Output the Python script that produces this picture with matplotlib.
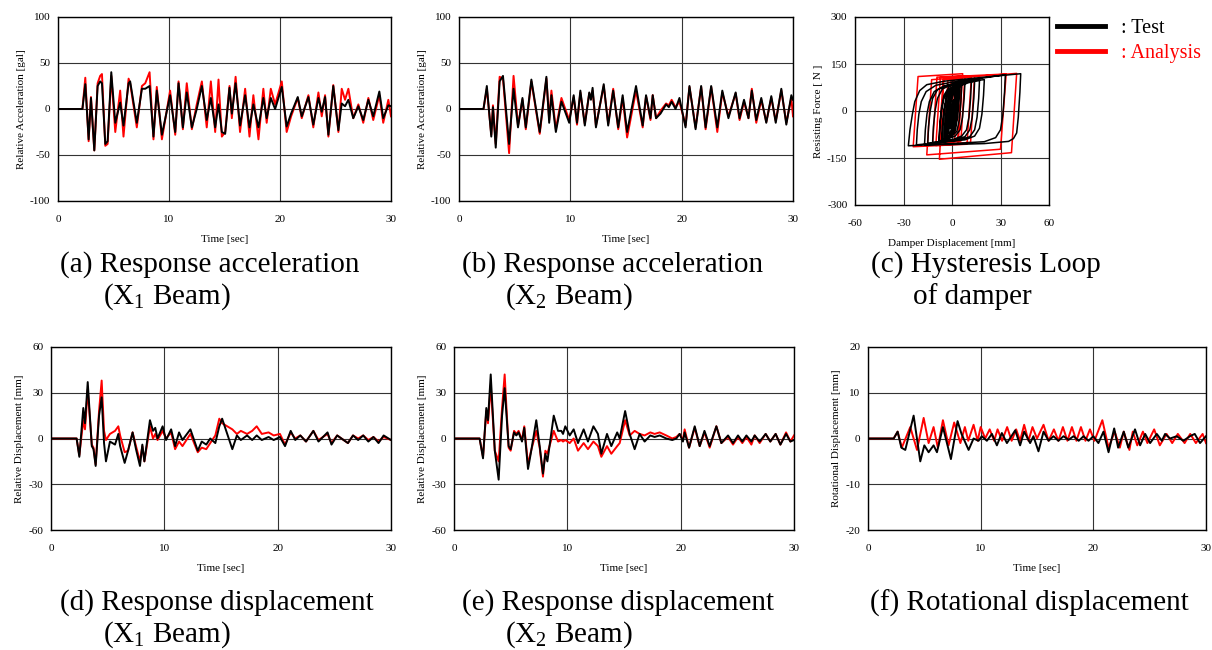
import matplotlib
matplotlib.use("Agg")
import matplotlib.pyplot as plt

plt.rcParams["font.family"] = ["Liberation Serif", "DejaVu Serif"]
plt.rcParams["mathtext.fontset"] = "custom"
plt.rcParams["mathtext.rm"] = "Liberation Serif"
plt.rcParams["mathtext.it"] = "Liberation Serif:italic"
plt.rcParams["axes.unicode_minus"] = False

# ---- data -----------------------------------------------------------------
# (a) response acceleration, X1 beam  [gal]
t_acc1 = [0, 2.2, 2.46, 2.76, 2.97, 3.27, 3.57, 3.8, 3.96, 4.26, 4.47, 4.8, 5.16, 5.6, 5.9,
          6.36, 6.5, 7.1, 7.56, 7.86, 8.25, 8.6, 8.9, 9.36, 10.1, 10.56, 10.86, 11.25, 11.6,
          12.06, 12.5, 12.96, 13.4, 13.77, 14.16, 14.46, 14.76, 15.06, 15.45, 15.66, 16.0,
          16.4, 16.86, 17.25, 17.6, 18.06, 18.5, 18.8, 19.17, 19.56, 20.16, 20.6, 21.0, 21.6,
          21.96, 22.56, 23.0, 23.46, 23.76, 24.06, 24.36, 24.8, 25.26, 25.56, 25.86, 26.16,
          26.6, 27.06, 27.5, 27.96, 28.4, 28.95, 29.3, 29.76, 30]
acc1_test = [0, 0, 27, -33, 12, -45, 25, 30, 28, -38, -35, 40, -15, 7, -18, 28, 30, -15, 22,
             22, 25, -30, 20, -28, 15, -25, 28, -20, 18, -20, 0, 25, -12, 12, -20, 5, -25, -27,
             23, -5, 28, -18, 15, -20, 5, -20, 12, -10, 12, 0, 24, -19, -5, 13, -8, 13, -17, 12,
             -3, 13, -28, 25, -23, 6, 3, 10, -10, 3, -12, 10, -8, 19, -10, 4, 3]
acc1_anal = [0, 0, 34, -35, 13, -45, 28, 36, 38, -40, -38, 36, -25, 20, -30, 33, 28, -20, 25,
             28, 40, -33, 24, -33, 20, -28, 30, -22, 28, -22, 5, 30, -20, 30, -25, 32, -30, -25,
             25, -10, 35, -25, 22, -30, 15, -33, 22, -15, 22, 5, 30, -25, -8, 12, -10, 15, -20,
             18, -8, 15, -30, 26, -25, 22, 10, 22, -10, 5, -15, 12, -12, 15, -15, 10, -8]

# (b) response acceleration, X2 beam  [gal]
t_acc2 = [0, 2.2, 2.5, 2.9, 3.05, 3.3, 3.65, 3.95, 4.5, 4.9, 5.3, 5.7, 6.0, 6.5, 7.25, 7.85,
          8.1, 8.3, 8.7, 9.2, 9.9, 10.3, 10.6, 10.9, 11.3, 11.7, 11.85, 12.0, 12.3, 13.0, 13.4,
          13.85, 14.3, 14.7, 15.1, 15.9, 16.5, 16.8, 17.2, 17.4, 17.7, 18.1, 18.6, 18.85, 19.1,
          19.45, 19.8, 20.35, 20.7, 21.25, 21.75, 22.15, 22.65, 23.2, 23.65, 24.2, 24.85, 25.2,
          25.6, 26.0, 26.3, 26.7, 27.15, 27.6, 28.05, 28.45, 28.95, 29.4, 29.85, 30]
acc2_test = [0, 0, 25, -30, 2, -42, 30, 36, -38, 22, -20, 12, -20, 32, -25, 35, -15, 15, -25,
             8, -15, 15, -15, 20, -18, 18, 10, 23, -20, 27, -18, 20, -20, 15, -25, 25, -18, 15,
             -10, 15, -10, -5, 5, 2, 8, 0, 12, -20, 25, -22, 25, -20, 25, -20, 20, -10, 18, -10,
             10, -10, 20, -12, 12, -15, 14, -15, 22, -17, 15, 10]
acc2_anal = [0, 0, 22, -28, 4, -38, 35, 33, -48, 36, -18, 10, -22, 30, -27, 33, -12, 20, -22,
             12, -12, 13, -17, 18, -16, 17, 12, 20, -18, 25, -16, 22, -22, 12, -31, 20, -20, 14,
             -12, 15, -10, -2, 6, 4, 10, 2, 8, -18, 24, -20, 24, -22, 24, -25, 18, -8, 17, -12,
             8, -10, 22, -15, 10, -14, 12, -13, 20, -15, 12, -8]

# (c) hysteresis loop of damper: displacement [mm], force [N]
loop_test_x = [0, 2, 5, 10, 14, 13.5, 12.5, 11, 8, 2, -12, -11.5, -10.5, -9, -6, 0, 10, 20,
               19.5, 18.5, 17, 14, 8, -10, -22, -21.5, -20.5, -19, -16, -10, 0, 15, 33,
               32.5, 31.5, 30, 27, 20, 0, -27, -26, -24.5, -23, -20, -15.6, -5, 20, 42.5,
               42, 41, 40, 38, 35, 20, 0, -17, -16.5, -15.5, -14, -11, -5, 5, 17,
               16.5, 15.5, 14, 11, 5, -8, -15, -14.5, -13.5, -12, -9, -3, 8, 12,
               11.5, 10.5, 9, 6, 0, -8, -7.5, -6.5, -5, -2, 3, 8,
               7.5, 6.5, 5, 2, -3, -6, -5.5, -4.5, -3, 0, 4, 6,
               5.5, 4.5, 3, 0, -4, -3.5, -2.5, -1, 2, 4,
               3.5, 2.5, 1, -2, -3, -2.5, -1.5, 0, 2, 3,
               2.5, 1.5, 0, -2, -1.5, -0.5, 1, 2, 1.5, 0.5, -1, -0.5, 0.5, 1,
               0.5, -0.5, -2, -5, -8, -7.5, -6.5, -5, -2, 1, 5,
               4.5, 3.5, 2, -1, -5, -4.5, -3.5, -2, 0, 3,
               2.5, 1.5, 0, -3, -6.5, -6, -5, -3.5, -1, 2, 4,
               3.5, 2.5, 1, -1.5, -3.5, -3, -2, -0.5, 1, 2, 1.5, 0.5, -0.5, 0]
loop_test_f = [0, 50, 80, 90, 95, 40, -20, -60, -82, -92, -100, -50, 0, 40, 70, 85, 95, 100,
               50, -10, -55, -80, -92, -102, -108, -60, -10, 30, 62, 82, 92, 102, 116,
               60, -10, -60, -85, -98, -104, -111, -60, -10, 30, 65, 84, 95, 108, 119,
               60, -20, -70, -88, -97, -104, -107, -108, -60, -10, 30, 62, 80, 90, 97,
               40, -20, -60, -82, -92, -100, -103, -50, 0, 40, 68, 82, 92, 95,
               40, -20, -60, -80, -92, -98, -50, 0, 40, 68, 82, 90,
               40, -20, -60, -80, -90, -94, -40, 10, 50, 72, 84, 87,
               30, -30, -65, -80, -88, -30, 20, 55, 75, 80,
               20, -40, -70, -80, -82, -30, 20, 55, 70, 72,
               10, -40, -65, -72, -20, 30, 55, 60, 0, -40, -55, -10, 30, 35,
               -20, -60, -82, -92, -96, -40, 10, 50, 75, 88, 95,
               40, -20, -62, -82, -92, -40, 10, 50, 72, 86,
               30, -25, -65, -85, -95, -45, 5, 45, 72, 86, 92,
               30, -30, -65, -82, -88, -30, 20, 55, 70, 76, 20, -30, -50, 0]
loop_anal_x = [0, 1.3, 12, 9.3, -24, -21, 6.6, 3.8, -10, -7.2, 33.5, 30, -15.6, -12.6, 40,
               36.8, -7.8, -5, 14, 11.5, -12, -9.3, 8, 5.5, -8, -5.5, 6, 3.5, -5, -2.5, 4,
               1.5, -3, -0.5, 2]
loop_anal_f = [0, 104, 108, -106, -114, 110, 119, -105, -110, 108, 118, -122, -140, 100, 120,
               -133, -154, 105, 112, -100, -108, 108, 112, -96, -101, 100, 104, -96, -99, 100,
               103, -97, -99, 100, 101]

# (d) response displacement, X1 beam  [mm]
t_dis1 = [0, 2.26, 2.5, 2.85, 3.0, 3.24, 3.6, 3.75, 3.94, 4.24, 4.47, 4.68, 4.85, 5.2, 5.65,
          5.94, 6.1, 6.5, 6.8, 7.2, 7.5, 7.85, 8.06, 8.24, 8.73, 9.0, 9.2, 9.4, 9.85, 10.15,
          10.6, 10.95, 11.3, 11.6, 12.3, 12.95, 13.3, 13.7, 14.05, 14.5, 14.85, 15.1, 16.0,
          16.4, 16.75, 17.3, 17.75, 18.15, 18.6, 19.2, 19.65, 20.2, 20.65, 21.15, 21.55, 22.0,
          22.5, 23.15, 23.6, 24.4, 24.75, 25.25, 26.2, 26.65, 27.1, 27.55, 28.0, 28.45, 28.9,
          29.35, 30]
dis1_test = [0, 0, -12, 20, 10, 37, -5, -7, -18, 15, 27, -3, -15, -2, -4, 3, -5, -16, -8, 4,
             -7, -18, -4, -15, 12, 5, 7, 0, 8, -1, 6, -5, 4, -1, 6, -8, -2, -4, 0, -3, 8, 13,
             -7, 2, -1, 2, -1, 2, -1, 1, -1, 1, -5, 5, -1, 2, -2, 5, -2, 4, -4, 2, -3, 2, -1,
             2, -2, 1, -3, 2, -1]
dis1_anal = [0, 0, -11, 12, 6, 32, -4, -6, -17, 18, 38, 5, -1, 3, 5, 8, 2, -9, -8, 4, -5,
             -15, -5, -15, 8, 0, 3, -1, 5, 0, 4, -7, -2, -5, 3, -9, -6, -7, -3, 2, 13, 10, 6,
             3, 5, 3, 5, 8, 3, 4, 2, 3, -4, 4, 0, 2, -2, 5, -1, 3, -3, 2, -3, 2, 0, 2, -1, 1,
             -2, 1, -1]

# (e) response displacement, X2 beam  [mm]
t_dis2 = [0, 2.26, 2.56, 2.85, 3.0, 3.24, 3.6, 3.94, 4.24, 4.47, 4.82, 5.0, 5.3, 5.5, 5.7,
          6.0, 6.2, 6.53, 6.77, 7.26, 7.56, 7.85, 8.06, 8.24, 8.8, 9.18, 9.47, 9.62, 9.82,
          10.21, 10.56, 10.94, 11.44, 11.82, 12.3, 12.7, 13.0, 13.5, 13.88, 14.4, 14.62, 15.1,
          15.5, 15.94, 16.38, 16.82, 17.32, 17.7, 18.15, 18.73, 19.26, 19.62, 19.91, 20.2,
          20.35, 20.74, 21.24, 21.68, 22.1, 22.56, 23.15, 23.59, 24.18, 24.62, 25.06, 25.44,
          25.8, 26.24, 26.53, 26.97, 27.5, 27.91, 28.38, 28.8, 29.3, 29.68, 30]
dis2_test = [0, 0, -13, 20, 12, 42, -8, -27, 15, 33, -5, -7, 4, 2, 4, -2, 7, -20, -10, 12,
             -5, -23, -10, -15, 15, 5, 5, 3, 8, 2, 6, -3, 6, -2, 8, 3, -10, 3, -5, 4, 0, 18, 3,
             -7, 3, -2, 2, 1, 2, 0, -1, 0, 3, -2, 4, -6, 8, -5, 5, -5, 8, -3, 2, -3, 2, -2, 2,
             -2, 2, -2, 3, -2, 3, -4, 3, -2, -1]
dis2_anal = [0, 0, -12, 18, 10, 35, -8, -15, 20, 42, -6, -8, 5, 3, 5, -1, 8, -17, -9, 5, -6,
             -25, -8, -10, 5, -2, -1, -2, -1, -3, 0, -8, -3, -7, -2, -5, -12, -5, -10, -5, -3,
             12, 2, 5, 3, 2, 4, 3, 4, 2, 0, 1, 3, -1, 6, -6, 7, -5, 4, -6, 8, -3, 1, -4, 1, -3,
             1, -4, 2, -3, 3, -2, 3, -4, 4, -2, 2]

# (f) rotational displacement  [mm]
t_rot_test = [0, 2.28, 2.63, 2.96, 3.31, 4.05, 4.64, 5.0, 5.38, 5.82, 6.12, 6.65, 7.36, 7.95,
              8.3, 8.93, 9.37, 9.81, 10.1, 10.55, 11.0, 11.44, 11.88, 12.33, 13.07, 13.5,
              13.86, 14.39, 14.68, 15.13, 15.58, 16.03, 16.46, 16.9, 17.35, 17.8, 18.24, 18.7,
              19.13, 19.57, 20.0, 20.45, 20.9, 21.35, 21.85, 22.2, 22.7, 23.1, 23.7, 24.15,
              24.6, 25.04, 25.63, 26.08, 26.37, 26.81, 27.4, 27.99, 28.58, 29.0, 29.47, 30]
rot_test = [0, 0, 1.5, -2, -2.5, 5, -5, -1.5, -3, -1.5, -3, 2.5, -4.5, 3.8, 1, -2.5, 0, -0.5,
            0.5, -0.5, 1, -1.5, 1.2, -1, 1.8, -1.5, 1.5, -1, 0.5, -2.8, 1.5, -0.5, 0.5, -0.5,
            0.5, -0.3, 0.5, -0.5, 0.5, -0.5, 0.5, -1, 1.5, -3, 2.2, -2, 1.5, -2, 2, -1.5, 1,
            -1, 1, -0.5, 1, 0, 0.5, -0.5, 0.5, 1, -1, 0.5]
t_rot_anal = [0, 2.28, 2.63, 3.0, 3.75, 4.35, 4.94, 5.38, 5.82, 6.2, 6.65, 7.15, 7.65, 8.2,
              8.6, 8.9, 9.37, 9.73, 10.0, 10.4, 10.8, 11.2, 11.5, 11.9, 12.35, 12.75, 13.15,
              13.5, 13.86, 14.24, 14.6, 15.0, 15.58, 16.03, 16.5, 16.9, 17.3, 17.7, 18.1, 18.5,
              18.9, 19.3, 19.7, 20.1, 20.8, 21.35, 21.9, 22.35, 22.7, 23.2, 23.5, 23.9, 24.4,
              24.8, 25.4, 25.9, 26.5, 27.0, 27.5, 28.1, 28.6, 29.1, 29.7, 30]
rot_anal = [0, 0, 1.5, -2, 2.5, -2.5, 4.5, -1, 2.5, -2, 4, -1.5, 3.5, -1, 2.5, -0.5, 3, -0.5,
            2.5, 0, 2, -0.5, 2, -0.5, 2.5, -0.5, 2, -0.5, 3, -0.5, 2.5, 0, 3, -0.5, 2, -0.5,
            2.5, -0.5, 2.5, -0.5, 2.5, -0.5, 2, -0.5, 4, -2, 1.5, -2, 1.5, -2.5, 1.5, -1.5, 1.5,
            -1, 2, -1.5, 1, -1, 1, -1, 1, -1, 1, -1]

TEST_C = "black"
ANAL_C = "#ff0000"
W, H = 1212, 650


def frame(left, top, right, bottom):
    return fig.add_axes([left / W, 1 - bottom / H, (right - left) / W, (bottom - top) / H])


def style(ax, xlim, xstep, ylim, ystep, xlabel, ylabel):
    ax.set_xlim(*xlim)
    ax.set_ylim(*ylim)
    ax.set_xticks(range(xlim[0], xlim[1] + 1, xstep))
    ax.set_yticks(range(ylim[0], ylim[1] + 1, ystep))
    ax.grid(True, color="#333333", lw=0.8)
    ax.set_axisbelow(True)
    ax.tick_params(length=0, labelsize=8)
    ax.tick_params(axis="x", pad=10)
    ax.tick_params(axis="y", pad=5.5)
    for s in ax.spines.values():
        s.set_linewidth(1.0)
    ax.set_xlabel(xlabel, fontsize=8, labelpad=8)
    ax.set_ylabel(ylabel, fontsize=8, labelpad=3)


def caption(x, y, text, size=21):
    fig.text(x / W, 1 - y / H, text, fontsize=size, ha="left", va="center")


fig = plt.figure(figsize=(12.12, 6.5), dpi=100)

ax_a = frame(58, 17, 391, 201)
ax_a.plot(t_acc1, acc1_anal, color=ANAL_C, lw=1.4)
ax_a.plot(t_acc1, acc1_test, color=TEST_C, lw=1.4)
style(ax_a, (0, 30), 10, (-100, 100), 50, "Time [sec]", "Relative Acceleration [gal]")

ax_b = frame(459, 17, 793, 201)
ax_b.plot(t_acc2, acc2_anal, color=ANAL_C, lw=1.4)
ax_b.plot(t_acc2, acc2_test, color=TEST_C, lw=1.4)
style(ax_b, (0, 30), 10, (-100, 100), 50, "Time [sec]", "Relative Acceleration [gal]")

ax_c = frame(855, 17, 1049, 205)
ax_c.plot(loop_anal_x, loop_anal_f, color=ANAL_C, lw=1.1)
ax_c.plot(loop_test_x, loop_test_f, color=TEST_C, lw=1.1)
style(ax_c, (-60, 60), 30, (-300, 300), 150, "Damper Displacement [mm]", "Resisting Force [ N ]")

ax_d = frame(51, 347, 391, 530)
ax_d.plot(t_dis1, dis1_anal, color=ANAL_C, lw=1.4)
ax_d.plot(t_dis1, dis1_test, color=TEST_C, lw=1.4)
style(ax_d, (0, 30), 10, (-60, 60), 30, "Time [sec]", "Relative Displacement [mm]")

ax_e = frame(454, 347, 794, 530)
ax_e.plot(t_dis2, dis2_anal, color=ANAL_C, lw=1.4)
ax_e.plot(t_dis2, dis2_test, color=TEST_C, lw=1.4)
style(ax_e, (0, 30), 10, (-60, 60), 30, "Time [sec]", "Relative Displacement [mm]")

ax_f = frame(868, 347, 1206, 530)
ax_f.plot(t_rot_anal, rot_anal, color=ANAL_C, lw=1.4)
ax_f.plot(t_rot_test, rot_test, color=TEST_C, lw=1.4)
style(ax_f, (0, 30), 10, (-20, 20), 10, "Time [sec]", "Rotational Displacement [mm]")

# legend next to the hysteresis panel
h_test, = ax_c.plot([], [], color=TEST_C, lw=3.5)
h_anal, = ax_c.plot([], [], color=ANAL_C, lw=3.5)
fig.legend([h_test, h_anal], [": Test", ": Analysis"], loc="upper left",
           bbox_to_anchor=(1057 / W, 1 - 19 / H), frameon=False, fontsize=14.5,
           handlelength=2.4, handletextpad=0.8, labelspacing=0.3, borderpad=0,
           borderaxespad=0, labelcolor=[TEST_C, ANAL_C])

caption(60, 265, "(a) Response acceleration")
caption(103, 297, r"(X$_1$ Beam)")
caption(462, 265, "(b) Response acceleration")
caption(505, 297, r"(X$_2$ Beam)")
caption(871, 265, "(c) Hysteresis Loop")
caption(913, 297, "of damper")
caption(60, 603, "(d) Response displacement")
caption(103, 635, r"(X$_1$ Beam)")
caption(462, 603, "(e) Response displacement")
caption(505, 635, r"(X$_2$ Beam)")
caption(870, 603, "(f) Rotational displacement")

fig.savefig("out.png", dpi=100)
